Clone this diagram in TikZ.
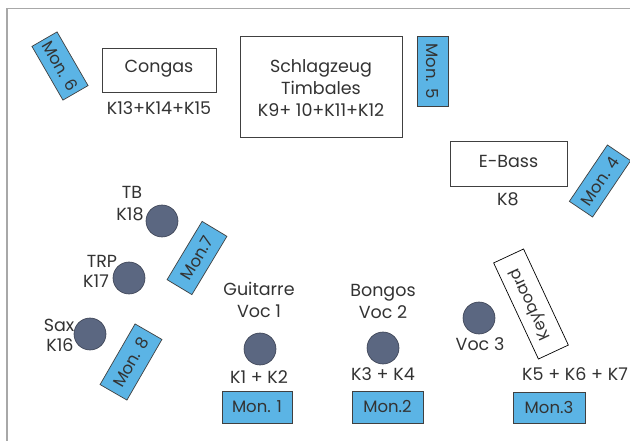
\documentclass[tikz,border=0pt]{standalone}
\usepackage{fontspec}
\setmainfont{Poppins}
\definecolor{monblue}{HTML}{5BB4E5}
\definecolor{mongray}{HTML}{5B6781}
\definecolor{monedge}{HTML}{3A4152}
\definecolor{framegray}{HTML}{A8A8A8}
\begin{document}
\begin{tikzpicture}[x=1pt,y=1pt,
  every node/.style={font=\fontsize{17.5}{22}\selectfont, text=black!80, inner sep=0pt},
  mon/.style={draw=black!75, line width=0.7pt, fill=monblue, minimum height=30pt, font=\fontsize{16.5}{20}\selectfont},
  instr/.style={draw=black!75, line width=0.7pt, fill=white},
  player/.style={circle, draw=monedge, line width=0.6pt, fill=mongray, minimum size=32pt},
  lbl/.style={align=center}]
\useasboundingbox (0,0) rectangle (630,-441);
\fill[white] (0,0) rectangle (630,-441);
\clip (0,0) rectangle (630,-441);
% frame
\coordinate (fa) at (630,-8.5);
\coordinate (fb) at (7,-8.5);
\coordinate (fc) at (7,-441);
\draw[framegray, line width=1.4pt] (fa) -- (fb) -- (fc);
% instruments
\node[instr, minimum width=114pt, minimum height=44pt] (congas) at (159,-70) {};
\node (congast) at (159,-69) {Congas};
\node (congask) at (159,-108) {K13+K14+K15};
\node[instr, minimum width=162pt, minimum height=101pt] (drums) at (321,-86.5) {};
\node[lbl] (drumst) at (321,-88) {Schlagzeug\\Timbales\\K9+ 10+K11+K12};
\node[instr, minimum width=117pt, minimum height=45pt] (bass) at (508.5,-163.5) {};
\node (basst) at (508.5,-161) {E-Bass};
\node (bassk) at (508,-199) {K8};
\node[instr, draw=black, minimum width=106pt, minimum height=33pt, rotate=115, font=\fontsize{16}{20}\selectfont] (keys) at (531,-304) {Keyboard};
% monitors
\node[mon, minimum width=62pt, minimum height=29pt, rotate=-60] (m6) at (60,-66) {Mon. 6};
\node[mon, minimum width=70pt, minimum height=31pt, rotate=-90] (m5) at (432.5,-71) {Mon. 5};
\node[mon, minimum width=68pt, minimum height=28pt, rotate=56] (m4) at (600,-181) {Mon. 4};
\node[mon, minimum width=68pt, minimum height=29pt, rotate=59] (m7) at (197,-258) {Mon.7};
\node[mon, minimum width=70pt, minimum height=31pt, rotate=60] (m8) at (131,-362) {Mon. 8};
\node[mon, minimum width=70pt, minimum height=32pt] (m1) at (257,-407) {Mon. 1};
\node[mon, minimum width=71pt, minimum height=32pt] (m2) at (387.5,-407) {Mon.2};
\node[mon, minimum width=72pt, minimum height=31pt] (m3) at (549,-407.5) {Mon.3};
% players labels
\node (tbl) at (132,-192) {TB};
\node (tbk) at (130,-214) {K18};
\node (trpl) at (102,-261) {TRP};
\node (trpk) at (96,-281) {K17};
\node (saxl) at (59,-325) {Sax};
\node (saxk) at (60,-345) {K16};
\node[lbl] (gitl) at (259,-300) {Guitarre\\Voc 1};
\node (gitk) at (259,-377) {K1 + K2};
\node[lbl] (bonl) at (383,-301) {Bongos\\Voc 2};
\node (bonk) at (383,-374) {K3 + K4};
\node (v3l) at (480,-344) {Voc 3};
\node[anchor=west] (keyk) at (522,-374) {K5 + K6 + K7};
% players
\node[player] (tb) at (162,-221) {};
\node[player] (trp) at (129,-278) {};
\node[player] (sax) at (90,-334) {};
\node[player] (git) at (260,-349) {};
\node[player] (bon) at (383,-348) {};
\node[player] (v3) at (479,-318) {};
\end{tikzpicture}
\end{document}
